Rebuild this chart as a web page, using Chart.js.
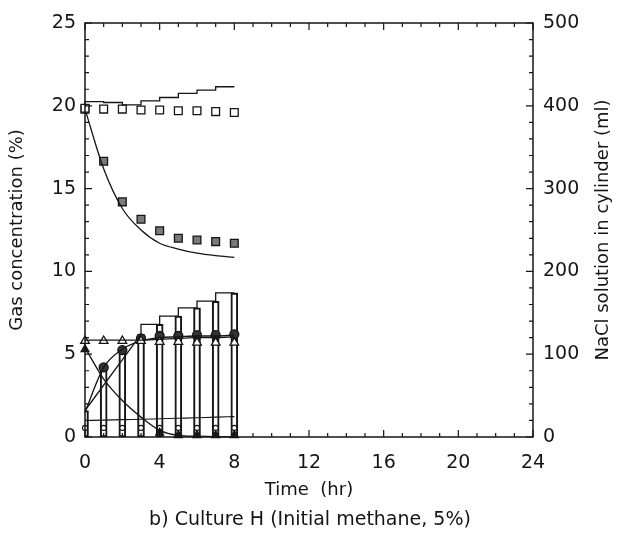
<!DOCTYPE html>
<html><head><meta charset="utf-8">
<script src="https://cdn.jsdelivr.net/npm/chart.js@4.4.1/dist/chart.umd.min.js"></script>
<style>html,body{margin:0;padding:0;background:#fff;}canvas{display:block;}</style>
</head><body>
<canvas id="c" width="620" height="535"></canvas>
<script>
// ---- data ----
const hours = [0, 1, 2, 3, 4, 5, 6, 7, 8];
const xTicks = [0, 4, 8, 12, 16, 20, 24];
const leftTicks = [0, 5, 10, 15, 20, 25];
const rightTicks = [0, 100, 200, 300, 400, 500];

const openSquares      = [19.85, 19.8, 19.8, 19.75, 19.75, 19.7, 19.7, 19.65, 19.6];
const openSquareModel  = [20.0, 20.25, 20.2, 20.05, 20.3, 20.5, 20.75, 20.95, 21.15];
const filledSquares    = [19.8, 16.65, 14.2, 13.15, 12.45, 12.0, 11.9, 11.8, 11.7];
const filledSquareModel= [19.8, 16.2, 13.8, 12.5, 11.7, 11.35, 11.1, 10.95, 10.85];
const openTriangles    = [5.8, 5.8, 5.8, 5.8, 5.75, 5.75, 5.7, 5.7, 5.7];
const openTriangleModel= [5.85, 5.85, 5.85, 5.85, 5.9, 5.95, 6.0, 6.0, 6.05];
const filledCircles    = [null, 4.2, 5.25, 5.95, 6.1, 6.1, 6.15, 6.15, 6.2];
const filledCircleModel= [1.5, 4.2, 5.3, 5.8, 6.0, 6.05, 6.1, 6.1, 6.15];
const filledTriangles  = [5.3, null, null, null, 0.25, 0.1, 0.1, 0.1, 0.1];
const filledTriangleModel = [5.4, 3.5, 2.2, 1.2, 0.4, 0.1, 0.05, 0.02, 0];
const smallOpen        = [0.55, 0.55, 0.55, 0.55, 0.55, 0.55, 0.55, 0.55, 0.55];
const smallOpenModel   = [1.0, 1.02, 1.05, 1.07, 1.1, 1.13, 1.16, 1.2, 1.23];
const nacl             = [32, 84, 106, 124, 136, 146, 156, 164, 174];   // ml, right axis

const pts = (arr) => hours.map((h, i) => ({x: h, y: arr[i]}));
const INK = '#151515';
const FONT = "'DejaVu Sans', sans-serif";

const frameTicks = {
  id: 'frameTicks',
  afterDraw(chart) {
    const {ctx, chartArea: a, scales: {x, y, y1}} = chart;
    ctx.save();
    ctx.strokeStyle = INK;
    ctx.lineWidth = 1.5;
    ctx.strokeRect(a.left, a.top, a.right - a.left, a.bottom - a.top);
    ctx.lineWidth = 1.2;
    ctx.beginPath();
    for (let v = x.min; v <= x.max; v += 1) {
      const p = x.getPixelForValue(v), L = v % 4 === 0 ? 7 : 4;
      ctx.moveTo(p, a.bottom); ctx.lineTo(p, a.bottom - L);
      ctx.moveTo(p, a.top); ctx.lineTo(p, a.top + L);
    }
    for (let v = y.min; v <= y.max; v += 1) {
      const p = y.getPixelForValue(v), L = v % 5 === 0 ? 7 : 4;
      ctx.moveTo(a.left, p); ctx.lineTo(a.left + L, p);
    }
    for (let v = y1.min; v <= y1.max; v += 20) {
      const p = y1.getPixelForValue(v), L = v % 100 === 0 ? 7 : 4;
      ctx.moveTo(a.right, p); ctx.lineTo(a.right - L, p);
    }
    ctx.stroke();
    // right axis title, reading bottom-to-top
    ctx.fillStyle = INK;
    ctx.font = "18px " + FONT;
    ctx.textAlign = 'center';
    ctx.textBaseline = 'middle';
    ctx.translate(603, (a.top + a.bottom) / 2);
    ctx.rotate(-Math.PI / 2);
    ctx.fillText(chart.options.plugins.rightTitle.text, 0, 0);
    ctx.restore();
  }
};

const lineDs = (data, extra) => Object.assign({
  type: 'line', data: pts(data), borderColor: INK, borderWidth: 1.3,
  pointRadius: 0, fill: false, clip: false, yAxisID: 'y'
}, extra);
const markDs = (data, style, r, bg, extra) => Object.assign({
  type: 'line', data: pts(data), showLine: false, pointStyle: style,
  pointRadius: r, backgroundColor: bg, borderColor: INK, borderWidth: 1.3,
  clip: false, yAxisID: 'y'
}, extra);

new Chart(document.getElementById('c'), {
  type: 'line',
  data: {
    datasets: [
      { type: 'bar', label: 'NaCl solution', data: pts(nacl), yAxisID: 'y1',
        backgroundColor: 'rgba(0,0,0,0)', borderColor: INK, borderWidth: 1.4,
        borderSkipped: false, barThickness: 7, order: 10 },
      lineDs(nacl, { yAxisID: 'y1',
        data: [{x: hours[0], y: nacl[0]}, {x: hours[3], y: nacl[3]}] }),
      lineDs(nacl, { yAxisID: 'y1', stepped: 'after',
        data: hours.slice(3).map((h, i) => ({x: h, y: nacl[i + 3]})) }),
      lineDs(openSquareModel, { stepped: 'after' }),
      markDs(openSquares, 'rect', 5.5, '#fff'),
      lineDs(filledSquareModel, { cubicInterpolationMode: 'monotone' }),
      markDs(filledSquares, 'rect', 5.5, '#7a7a7a'),
      lineDs(openTriangleModel, { cubicInterpolationMode: 'monotone' }),
      markDs(openTriangles, 'triangle', 5, '#fff'),
      lineDs(filledCircleModel, { cubicInterpolationMode: 'monotone' }),
      markDs(filledCircles, 'circle', 4.5, '#333'),
      lineDs(filledTriangleModel, { cubicInterpolationMode: 'monotone' }),
      markDs(filledTriangles, 'triangle', 4.5, '#222'),
      lineDs(smallOpenModel, { cubicInterpolationMode: 'monotone', borderWidth: 1.1 }),
      markDs(smallOpen, 'circle', 2.5, '#fff', { borderWidth: 1.1 })
    ]
  },
  options: {
    responsive: false,
    animation: false,
    devicePixelRatio: 1,
    layout: { padding: { top: 23, left: 0, right: 0, bottom: 0 } },
    plugins: {
      legend: { display: false },
      tooltip: { enabled: false },
      rightTitle: { text: 'NaCl solution in cylinder (ml)' },
      title: { display: true, position: 'bottom', text: 'b) Culture H (Initial methane, 5%)',
        color: INK, font: { family: FONT, size: 19, weight: 'normal' },
        padding: { top: 4, bottom: 4 } }
    },
    scales: {
      x: { type: 'linear', min: 0, max: 24, offset: false,
        afterBuildTicks: s => { s.ticks = xTicks.map(v => ({ value: v })); },
        afterFit: s => { s.height = 67.2; },
        grid: { display: false, drawTicks: false }, border: { display: false },
        ticks: { color: INK, font: { family: FONT, size: 19 }, padding: 15, maxRotation: 0 },
        title: { display: true, text: 'Time  (hr)', color: INK,
          font: { family: FONT, size: 18 }, padding: { top: 0, bottom: 3 } } },
      y: { type: 'linear', position: 'left', min: 0, max: 25,
        afterBuildTicks: s => { s.ticks = leftTicks.map(v => ({ value: v })); },
        afterFit: s => { s.width = 85; },
        grid: { display: false, drawTicks: false }, border: { display: false },
        ticks: { color: INK, font: { family: FONT, size: 19 }, padding: 9 },
        title: { display: true, text: 'Gas concentration (%)', color: INK,
          font: { family: FONT, size: 18 }, padding: { top: 7, bottom: 0 } } },
      y1: { type: 'linear', position: 'right', min: 0, max: 500,
        afterBuildTicks: s => { s.ticks = rightTicks.map(v => ({ value: v })); },
        afterFit: s => { s.width = 87; },
        grid: { display: false, drawTicks: false }, border: { display: false },
        ticks: { color: INK, font: { family: FONT, size: 19 }, padding: 10 } }
    }
  },
  plugins: [frameTicks]
});
</script>
</body></html>
